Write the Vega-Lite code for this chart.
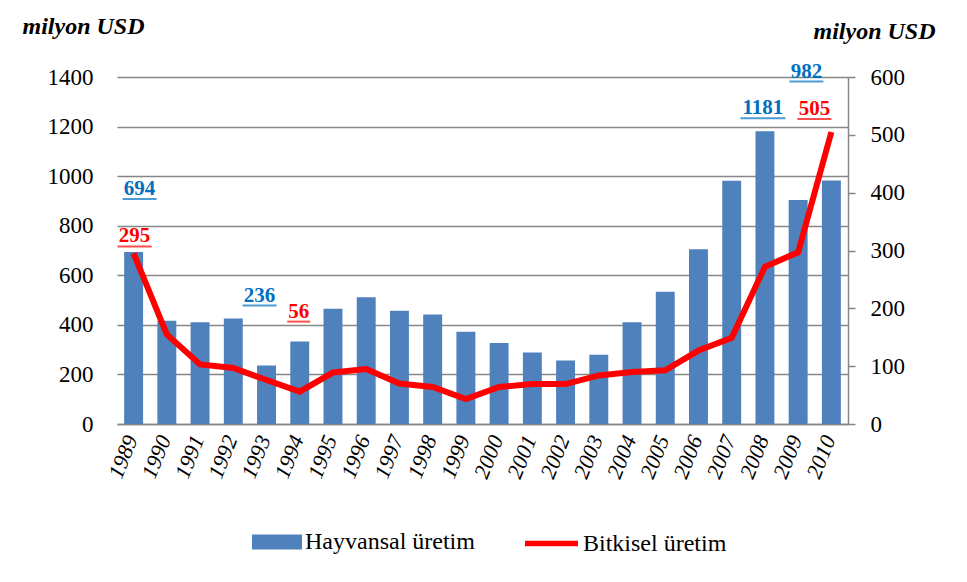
{
  "$schema": "https://vega.github.io/schema/vega-lite/v6.json",
  "width": 731,
  "height": 347,
  "autosize": {"type": "none"},
  "padding": {"left": 117, "top": 77, "right": 119, "bottom": 158},
  "background": "white",
  "config": {
    "view": {"stroke": null},
    "font": "Liberation Serif",
    "text": {"font": "Liberation Serif"},
    "axis": {"labelFont": "Liberation Serif", "labelColor": "#000000", "titleFont": "Liberation Serif", "titleColor": "#000000"},
    "legend": {"labelFont": "Liberation Serif", "labelColor": "#000000", "padding": 0, "labelLimit": 0}
  },
  "data": {
    "values": [
      {"year": "1989", "hayvansal": 694, "bitkisel": 295},
      {"year": "1990", "hayvansal": 417, "bitkisel": 155},
      {"year": "1991", "hayvansal": 411, "bitkisel": 103},
      {"year": "1992", "hayvansal": 426, "bitkisel": 97},
      {"year": "1993", "hayvansal": 236, "bitkisel": 76},
      {"year": "1994", "hayvansal": 333, "bitkisel": 56},
      {"year": "1995", "hayvansal": 465, "bitkisel": 89},
      {"year": "1996", "hayvansal": 511, "bitkisel": 95},
      {"year": "1997", "hayvansal": 457, "bitkisel": 70},
      {"year": "1998", "hayvansal": 442, "bitkisel": 64},
      {"year": "1999", "hayvansal": 372, "bitkisel": 43},
      {"year": "2000", "hayvansal": 327, "bitkisel": 64},
      {"year": "2001", "hayvansal": 288, "bitkisel": 69},
      {"year": "2002", "hayvansal": 256, "bitkisel": 69},
      {"year": "2003", "hayvansal": 279, "bitkisel": 84},
      {"year": "2004", "hayvansal": 411, "bitkisel": 90},
      {"year": "2005", "hayvansal": 534, "bitkisel": 93},
      {"year": "2006", "hayvansal": 705, "bitkisel": 127},
      {"year": "2007", "hayvansal": 981, "bitkisel": 149},
      {"year": "2008", "hayvansal": 1181, "bitkisel": 272},
      {"year": "2009", "hayvansal": 904, "bitkisel": 297},
      {"year": "2010", "hayvansal": 982, "bitkisel": 505}
    ]
  },
  "encoding": {
    "x": {
      "field": "year",
      "type": "ordinal",
      "scale": {"paddingInner": 0.43, "paddingOuter": 0.215},
      "axis": {
        "title": null,
        "labelFont": "Liberation Serif",
        "labelAngle": -68,
        "labelFontSize": 22,
        "labelFontStyle": "italic",
        "labelPadding": 12,
        "labelOffset": -2,
        "ticks": false,
        "domainColor": "#868686",
        "domainWidth": 1.5,
        "grid": false
      }
    }
  },
  "layer": [
    {
      "layer": [
        {
          "mark": {"type": "bar"},
          "encoding": {
            "y": {
              "field": "hayvansal",
              "type": "quantitative",
              "scale": {"domain": [0, 1400], "nice": false},
              "axis": {
                "orient": "left",
                "values": [0, 200, 400, 600, 800, 1000, 1200, 1400],
                "format": "d",
                "grid": true,
                "gridColor": "#868686",
                "gridWidth": 1.5,
                "domain": false,
                "ticks": false,
                "tickSize": 0,
                "labelFont": "Liberation Serif",
                "labelFontSize": 23,
                "labelPadding": 24,
                "title": "milyon USD",
                "titleFont": "Liberation Serif",
                "titleAngle": 0,
                "titleAlign": "left",
                "titleBaseline": "alphabetic",
                "titleX": -95,
                "titleY": -44,
                "titleFontSize": 24,
                "titleFontWeight": "bold",
                "titleFontStyle": "italic"
              }
            },
            "fill": {
              "datum": "Hayvansal üretim",
              "type": "nominal",
              "scale": {"range": ["#4F81BD"]},
              "legend": {
                "title": null,
                "orient": "none",
                "legendX": 135,
                "legendY": 440,
                "symbolType": "M-1,-0.3H1V0.3H-1Z",
                "symbolSize": 2500,
                "symbolStrokeWidth": 0,
                "labelFont": "Liberation Serif",
                "labelFontSize": 24,
                "labelOffset": 3,
                "labelLimit": 0
              }
            }
          }
        },
        {
          "transform": [{"filter": "datum.year == '1989'"}],
          "encoding": {"y": {"field": "hayvansal", "type": "quantitative"}},
          "layer": [
            {"mark": {"type": "text", "font": "Liberation Serif", "fontSize": 21, "fontWeight": "bold", "color": "#0070C0", "dy": -63, "dx": 6, "baseline": "middle"},
             "encoding": {"text": {"field": "hayvansal", "type": "quantitative", "format": "d"}}},
            {"mark": {"type": "tick", "orient": "horizontal", "size": 34, "thickness": 2, "color": "#0070C0", "yOffset": -53, "xOffset": 6}}
          ]
        },
        {
          "transform": [{"filter": "datum.year == '1993'"}],
          "encoding": {"y": {"field": "hayvansal", "type": "quantitative"}},
          "layer": [
            {"mark": {"type": "text", "font": "Liberation Serif", "fontSize": 21, "fontWeight": "bold", "color": "#0070C0", "dy": -70, "dx": -7, "baseline": "middle"},
             "encoding": {"text": {"field": "hayvansal", "type": "quantitative", "format": "d"}}},
            {"mark": {"type": "tick", "orient": "horizontal", "size": 34, "thickness": 2, "color": "#0070C0", "yOffset": -60, "xOffset": -7}}
          ]
        },
        {
          "transform": [{"filter": "datum.year == '2008'"}],
          "encoding": {"y": {"field": "hayvansal", "type": "quantitative"}},
          "layer": [
            {"mark": {"type": "text", "font": "Liberation Serif", "fontSize": 21, "fontWeight": "bold", "color": "#0070C0", "dy": -23, "dx": -2, "baseline": "middle"},
             "encoding": {"text": {"field": "hayvansal", "type": "quantitative", "format": "d"}}},
            {"mark": {"type": "tick", "orient": "horizontal", "size": 45, "thickness": 2, "color": "#0070C0", "yOffset": -13, "xOffset": -2}}
          ]
        },
        {
          "transform": [{"filter": "datum.year == '2010'"}],
          "encoding": {"y": {"field": "hayvansal", "type": "quantitative"}},
          "layer": [
            {"mark": {"type": "text", "font": "Liberation Serif", "fontSize": 21, "fontWeight": "bold", "color": "#0070C0", "dy": -109, "dx": -25, "baseline": "middle"},
             "encoding": {"text": {"field": "hayvansal", "type": "quantitative", "format": "d"}}},
            {"mark": {"type": "tick", "orient": "horizontal", "size": 34, "thickness": 2, "color": "#0070C0", "yOffset": -99, "xOffset": -25}}
          ]
        }
      ]
    },
    {
      "layer": [
        {
          "mark": {"type": "line", "strokeWidth": 6},
          "encoding": {
            "y": {
              "field": "bitkisel",
              "type": "quantitative",
              "scale": {"domain": [0, 600], "nice": false},
              "axis": {
                "orient": "right",
                "values": [0, 100, 200, 300, 400, 500, 600],
                "format": "d",
                "grid": false,
                "domain": true,
                "domainColor": "#868686",
                "domainWidth": 1.5,
                "ticks": true,
                "tickColor": "#868686",
                "tickWidth": 1.5,
                "tickSize": 7,
                "labelFont": "Liberation Serif",
                "labelFontSize": 23,
                "labelPadding": 15,
                "title": "milyon USD",
                "titleFont": "Liberation Serif",
                "titleAngle": 0,
                "titleAlign": "left",
                "titleBaseline": "alphabetic",
                "titleX": -35,
                "titleY": -39,
                "titleFontSize": 24,
                "titleFontWeight": "bold",
                "titleFontStyle": "italic"
              }
            },
            "stroke": {
              "datum": "Bitkisel üretim",
              "type": "nominal",
              "scale": {"range": ["#FF0000"]},
              "legend": {
                "title": null,
                "orient": "none",
                "legendX": 405,
                "legendY": 437,
                "symbolType": "stroke",
                "symbolSize": 2809,
                "symbolStrokeWidth": 5.5,
                "labelFont": "Liberation Serif",
                "labelFontSize": 24,
                "labelOffset": 2,
                "labelLimit": 0
              }
            }
          }
        },
        {
          "transform": [{"filter": "datum.year == '1989'"}],
          "encoding": {"y": {"field": "bitkisel", "type": "quantitative"}},
          "layer": [
            {"mark": {"type": "text", "font": "Liberation Serif", "fontSize": 21, "fontWeight": "bold", "color": "#FF0000", "dy": -17, "dx": 1, "baseline": "middle"},
             "encoding": {"text": {"field": "bitkisel", "type": "quantitative", "format": "d"}}},
            {"mark": {"type": "tick", "orient": "horizontal", "size": 34, "thickness": 2, "color": "#FF0000", "yOffset": -7, "xOffset": 1}}
          ]
        },
        {
          "transform": [{"filter": "datum.year == '1994'"}],
          "encoding": {"y": {"field": "bitkisel", "type": "quantitative"}},
          "layer": [
            {"mark": {"type": "text", "font": "Liberation Serif", "fontSize": 21, "fontWeight": "bold", "color": "#FF0000", "dy": -80, "dx": -1, "baseline": "middle"},
             "encoding": {"text": {"field": "bitkisel", "type": "quantitative", "format": "d"}}},
            {"mark": {"type": "tick", "orient": "horizontal", "size": 23, "thickness": 2, "color": "#FF0000", "yOffset": -70, "xOffset": -1}}
          ]
        },
        {
          "transform": [{"filter": "datum.year == '2010'"}],
          "encoding": {"y": {"field": "bitkisel", "type": "quantitative"}},
          "layer": [
            {"mark": {"type": "text", "font": "Liberation Serif", "fontSize": 21, "fontWeight": "bold", "color": "#FF0000", "dy": -23, "dx": -17, "baseline": "middle"},
             "encoding": {"text": {"field": "bitkisel", "type": "quantitative", "format": "d"}}},
            {"mark": {"type": "tick", "orient": "horizontal", "size": 34, "thickness": 2, "color": "#FF0000", "yOffset": -13, "xOffset": -17}}
          ]
        }
      ]
    }
  ],
  "resolve": {"scale": {"y": "independent"}}
}
